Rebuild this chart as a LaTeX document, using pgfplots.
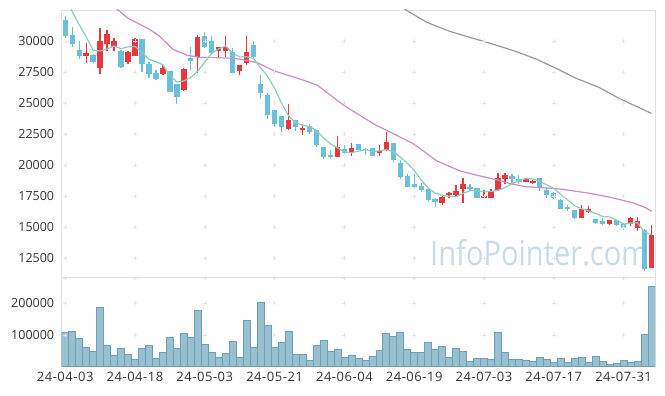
\documentclass[border=0pt]{standalone}
\usepackage{fontspec}
\setmainfont{Open Sans}
\usepackage{pgfplots}
\usepackage{pgfplotstable}
\pgfplotsset{compat=1.18}
\definecolor{upc}{HTML}{E8383D}
\definecolor{downc}{HTML}{6BC0D9}
\definecolor{ma5}{HTML}{8CCDC2}
\definecolor{ma20}{HTML}{CC8CCA}
\definecolor{ma60}{HTML}{9A9A9A}
\definecolor{volf}{HTML}{98C0D1}
\definecolor{vold}{HTML}{6E9FB8}
\definecolor{wm}{HTML}{C8DBE7}
\definecolor{framec}{HTML}{E2E2E2}
\definecolor{crossc}{HTML}{E6E6E6}
\definecolor{labc}{HTML}{333333}

\pgfplotstableread{
i o h l c
3 28830 29840 28210 29070
5 27860 31060 27340 30020
6 29760 30860 29160 30590
7 29560 30240 29160 30020
9 28290 29160 28130 29110
10 28830 30240 28800 30190
14 27320 28080 27260 27860
17 26050 27810 25970 27750
19 28750 30510 27450 30320
22 29160 29540 28620 29510
23 29160 30430 28750 29510
25 27610 28080 27260 28080
26 28210 30430 28080 29110
32 22940 24910 22860 23670
34 22800 23340 22450 23020
39 20690 22390 20630 21440
41 20950 21770 20770 21390
45 20950 21640 20770 21170
46 21250 22660 21170 21900
54 16930 17520 16760 17440
55 17580 17840 17380 17740
56 17600 18420 17440 17930
57 18110 18960 16980 18520
60 17380 18010 17330 17520
61 17330 18060 17330 17930
62 17980 19410 17930 18960
63 18920 19410 18470 19220
66 18680 19000 18680 18920
67 18600 18820 18470 18740
74 15760 16760 15760 16440
75 16240 16710 16160 16490
78 15250 15620 15220 15570
81 15270 15840 15080 15760
82 14970 15810 14710 15490
84 11760 15220 11700 14350
}\up

\pgfplotstableread{
i o h l c
0 31730 32000 30244 30374
1 30450 31140 29480 29760
2 29290 29970 28540 28800
4 28890 28940 28260 28340
8 29160 29300 27810 27940
11 30190 30190 27530 28130
12 28130 28340 27050 27320
13 27400 27670 26860 26910
15 27590 27600 25860 25910
16 26510 26510 24970 25500
18 28620 29560 27670 28420
20 30430 30730 29430 29560
21 30020 30430 28970 29070
24 29110 29430 27400 27450
27 29700 29970 28620 28750
28 26530 27260 25370 25830
29 25640 25830 23750 24020
30 24420 24420 23070 23280
31 23930 23930 22660 23070
33 23610 23610 22720 23070
35 23150 23340 22500 22660
36 22800 22800 21440 21660
37 21440 21440 20500 20630
38 20790 21240 20500 20630
40 21310 21660 20870 20950
42 21720 21720 21250 21250
43 21310 21400 20830 21200
44 21390 21390 20710 20710
47 21800 21800 20220 20420
48 20140 20420 18920 19090
49 19140 19280 18240 18270
50 18520 19280 18190 18250
51 18330 18600 17870 18010
52 18110 18110 17110 17190
53 17300 17380 16630 17030
58 18270 18520 17930 18110
59 18190 18190 17380 17380
64 19140 19280 18520 18920
65 18880 19220 18520 18680
68 18960 18960 17930 18140
69 18010 18190 17380 17580
70 17740 17840 17250 17330
71 17170 17300 16490 16490
72 16650 16760 16300 16490
73 16380 16380 15700 15760
76 15710 15710 15300 15380
77 15490 15760 15220 15300
79 15620 15620 15110 15160
80 15300 15380 14760 14920
83 14760 14870 11490 11620
}\down

\pgfplotstableread{
i v
0 33500
1 32380
2 31320
3 30350
4 29268
5 29198
6 29364
7 29608
8 29382
9 29536
10 29570
11 29078
12 28538
13 28332
14 28082
15 27226
16 26700
17 26786
18 27088
19 27580
20 28310
21 29024
22 29376
23 29594
24 29020
25 28724
26 28732
27 28580
28 27844
29 27158
30 26198
31 24990
32 23974
33 23422
34 23222
35 23098
36 22816
37 22208
38 21720
39 21404
40 21062
41 21008
42 21132
43 21256
44 21110
45 21154
46 21256
47 21090
48 20658
49 20170
50 19586
51 18808
52 18162
53 17750
54 17584
55 17482
56 17466
57 17732
58 17948
59 17936
60 17892
61 17892
62 17980
63 18202
64 18510
65 18742
66 18940
67 18896
68 18680
69 18412
70 18142
71 17656
72 17206
73 16730
74 16502
75 16334
76 16112
77 15874
78 15836
79 15580
80 15266
81 15342
82 15380
83 14590
84 14428
}\maA

\pgfplotstableread{
i v
6.5 33100
7.5 32540
8.9 31870
10.8 31320
12.0 30960
13.4 30450
15.4 29350
17.5 28850
19.4 28670
21.2 28670
23.7 28620
25.1 28540
27.5 28260
29.9 27610
31.8 27260
34.1 26860
36.1 26450
38.0 25640
39.9 24830
42.2 24020
44.6 23200
46.1 22800
49.9 21720
53.2 20360
56.5 19550
59.4 19140
62.1 18790
63.7 18520
66.1 18270
68.4 18190
71.3 18060
75.1 17740
77.9 17440
81.3 16980
83.2 16570
84.0 16300
}\maB

\pgfplotstableread{
i v
48.0 33100
48.7 32540
51.8 31510
55.1 30780
57.5 30370
60.3 29920
64.6 29160
67.5 28540
70.3 27810
73.2 27000
76.5 26260
79.4 25370
83.9 24200
84.0 24170
}\maC

\pgfplotstableread{
i v
0 108500
1 111700
2 89600
3 61200
4 49500
5 187400
6 66300
7 36900
8 58000
9 39100
10 23300
11 58000
12 66300
13 26500
14 45400
15 92800
16 58000
17 105400
18 92800
19 177900
20 70700
21 45400
22 29700
23 42300
24 80100
25 29700
26 146400
27 61200
28 203200
29 130600
30 61200
31 77000
32 111700
33 39100
34 39100
35 20200
36 67500
37 83300
38 48600
39 54900
40 29700
41 36000
42 26500
43 20200
44 32800
45 51700
46 105400
47 95900
48 108500
49 54900
50 45400
51 45400
52 77000
53 54900
54 64400
55 29700
56 58000
57 48600
58 17000
59 26500
60 26500
61 23300
62 108500
63 45400
64 23300
65 23300
66 20200
67 17000
68 29700
69 23300
70 13900
71 26500
72 13900
73 26500
74 29700
75 13900
76 32800
77 17000
78 7600
79 10700
80 20200
81 13900
82 17000
83 102200
84 253700
}\vol

\pgfplotsset{
  panel/.style={
    scale only axis, width=593.3pt,
    xmin=-0.5, xmax=84.5,
    axis line style={draw=framec, line width=0.8pt},
    tick style={draw=none},
    scaled y ticks=false,
    yticklabel style={anchor=east, inner sep=0pt, xshift=-7.4pt, text=labc, font=\fontsize{12.5}{13}\selectfont},
  },
  wick/.style={draw=none, mark=none, forget plot,
    error bars/.cd, y dir=plus, y explicit, error mark=none,
    error bar style={line width=1.2pt, draw=#1, solid}},
  body/.style={draw=none, mark=none, forget plot,
    error bars/.cd, y dir=plus, y explicit, error mark=none,
    error bar style={line width=5.3pt, draw=#1, solid}},
  crosses/.style={only marks, mark=+, mark size=1.9pt, crossc, line width=0.5pt, forget plot},
}

\begin{document}
\begin{tikzpicture}
\path[use as bounding box] (0pt,0pt) rectangle (665pt,396pt);
\node[anchor=base west, inner sep=0pt, text=wm, font=\fontsize{34}{34}\selectfont] at (430pt,130.3pt) {\scalebox{0.855}[1]{InfoPointer.com}};

\begin{axis}[panel, at={(61.7pt,119pt)}, anchor=south west, height=267pt,
  ymin=11000, ymax=32500,
  xmajorticks=false,
  ytick={12500,15000,17500,20000,22500,25000,27500,30000},
  yticklabels={12500,15000,17500,20000,22500,25000,27500,30000},
]
\pgfplotsinvokeforeach{0,10,20,30,40,50,60,70,80}{
  \addplot[crosses]
    coordinates {(#1,12500) (#1,15000) (#1,17500) (#1,20000) (#1,22500) (#1,25000) (#1,27500) (#1,30000)};
}
\addplot[wick=downc] table[x=i, y=l, y error plus expr=\thisrow{h}-\thisrow{l}] {\down};
\addplot[body=downc] table[x=i, y=c, y error plus expr=\thisrow{o}-\thisrow{c}] {\down};
\addplot[wick=upc] table[x=i, y=l, y error plus expr=\thisrow{h}-\thisrow{l}] {\up};
\addplot[body=upc] table[x=i, y=o, y error plus expr=\thisrow{c}-\thisrow{o}] {\up};
\addplot[ma60, line width=1.2pt, mark=none] table[x=i, y=v] {\maC};
\addplot[ma20, line width=1.2pt, mark=none] table[x=i, y=v] {\maB};
\addplot[ma5, line width=1.2pt, mark=none] table[x=i, y=v] {\maA};
\end{axis}

\begin{axis}[panel, at={(61.7pt,29.3pt)}, anchor=south west, height=89.7pt,
  ymin=0, ymax=283000,
  ytick={100000,200000},
  yticklabels={100000,200000},
  xtick={0,10,20,30,40,50,60,70,80},
  xticklabels={24-04-03,24-04-18,24-05-03,24-05-21,24-06-04,24-06-19,24-07-03,24-07-17,24-07-31},
  xticklabel style={anchor=north, inner sep=0pt, yshift=-5.5pt, text=labc, font=\fontsize{13}{13}\selectfont\addfontfeatures{LetterSpace=4}},
]
\pgfplotsinvokeforeach{0,10,20,30,40,50,60,70,80}{
  \addplot[crosses]
    coordinates {(#1,100000) (#1,200000) (#1,280000)};
}
\addplot[ybar, bar width=6.98pt, bar shift=0pt, fill=volf, draw=vold, line width=0.6pt] table[x=i, y=v] {\vol};
\end{axis}
\end{tikzpicture}
\end{document}
